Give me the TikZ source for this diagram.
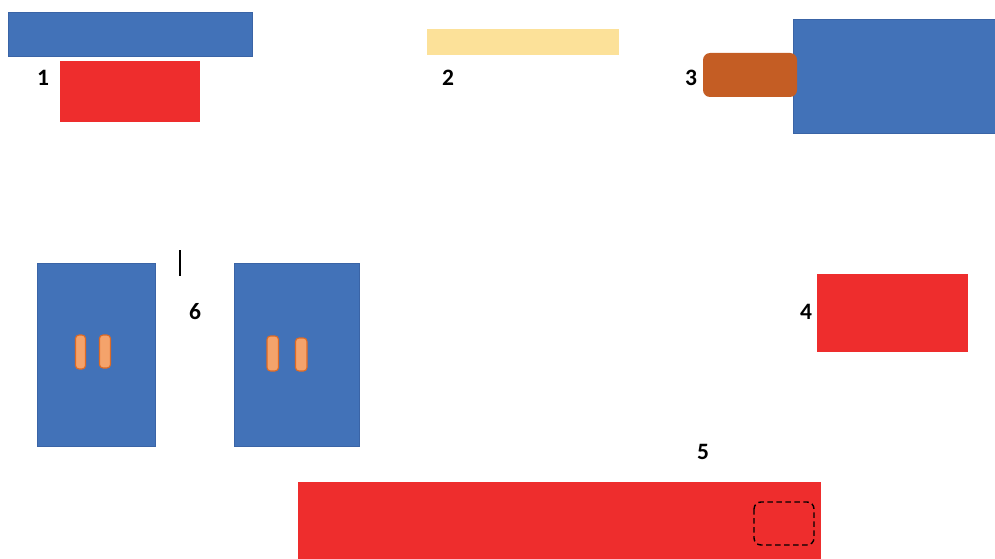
\documentclass[tikz,border=0pt]{standalone}
\usepackage{fontspec}
\setmainfont{Carlito}
\definecolor{cblue}{HTML}{4272B8}
\definecolor{cbluedk}{HTML}{3A64A6}
\definecolor{cred}{HTML}{EE2D2D}
\definecolor{cyellow}{HTML}{FCE199}
\definecolor{cbrown}{HTML}{C45D24}
\definecolor{cpill}{HTML}{F4A36B}
\definecolor{cpilldk}{HTML}{DE6A24}
\begin{document}
\begin{tikzpicture}[x=1pt,y=-1pt,
  bluebox/.style={fill=cblue,draw=cbluedk,line width=0.6pt},
  pill/.style={fill=cpill,draw=cpilldk,line width=1.1pt,rounded corners=3.5pt},
  lbl/.style={font=\fontsize{23.5}{25}\selectfont\bfseries,inner sep=0pt}]
\useasboundingbox (0,0) rectangle (995,559);
% group 1
\draw[bluebox] (8,12) rectangle (252,56);
\fill[cred] (60,61) rectangle (200,122);
\node[lbl] (l1) at (43,78) {1};
% group 2
\fill[cyellow] (427,29) rectangle (619,55);
\node[lbl] (l2) at (448,78) {2};
% group 3
\draw[bluebox] (793,19) rectangle (1000,133);
\fill[cbrown,rounded corners=7pt] (703,53) rectangle (797,97);
\node[lbl] (l3) at (691,78) {3};
% group 4
\fill[cred] (817,274) rectangle (968,352);
\node[lbl] (l4) at (806,312) {4};
% group 5
\fill[cred] (298,482) rectangle (821,565);
\draw[line width=1.4pt,rounded corners=7pt,dash pattern=on 5.5pt off 3.5pt] (754,502) rectangle (814,545);
\node[lbl] (l5) at (703,452) {5};
% group 6
\draw[bluebox] (37,263) rectangle (155,446);
\draw[pill] (75.5,335) rectangle (85.5,369);
\draw[pill] (99.5,335) rectangle (110.5,368);
\draw[bluebox] (234,263) rectangle (359,446);
\draw[pill] (267,336) rectangle (278.5,371);
\draw[pill] (295.5,338) rectangle (307,371);
\draw[line width=1.2pt] (180,250) -- (180,276);
\node[lbl] (l6) at (195,312) {6};
\end{tikzpicture}
\end{document}
